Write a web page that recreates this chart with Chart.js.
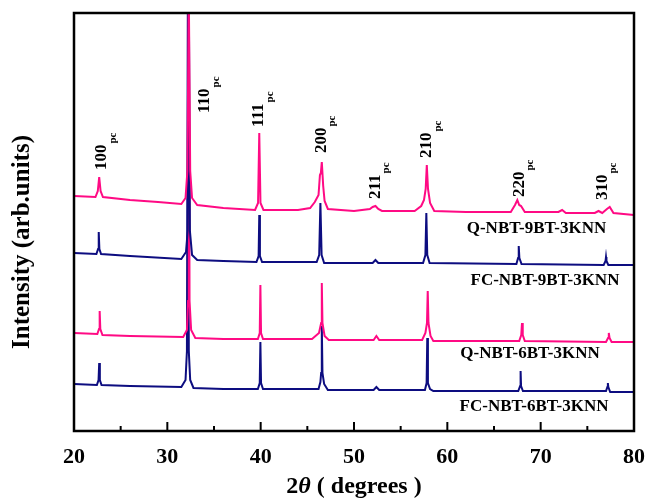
<!DOCTYPE html>
<html>
<head>
<meta charset="utf-8">
<script src="https://cdn.jsdelivr.net/npm/chart.js@4.4.1/dist/chart.umd.min.js"></script>
<style>
  body { margin: 0; background: #fff; }
  #wrap { width: 649px; height: 502px; position: relative; }
</style>
</head>
<body>
<div id="wrap"><canvas id="xrdChart"></canvas></div>
<script>
// ---- datos (2theta, intensidad en unidades arbitrarias) ----
const q9X = [20, 22.3, 22.55, 22.7, 22.85, 23.1, 26, 29, 31.5, 31.95, 32.15, 32.3, 32.45, 32.65, 33.2, 36, 39.4, 39.72, 39.85, 39.98, 40.3,
  44, 45.3, 45.8, 46.2, 46.35, 46.45, 46.55, 46.7, 46.85, 47.2, 50, 51.7, 52.0, 52.3, 52.6, 53, 56.5, 57.2, 57.5, 57.68, 57.8, 57.93, 58.15, 58.6,
  62, 66.8, 67.25, 67.5, 67.7, 67.9, 68.3, 71.9, 72.3, 72.7, 75.8, 76.2, 76.6, 77.1, 77.4, 77.8, 80];
const q9Y = [235, 234, 240, 254, 240, 234, 231, 229, 227, 233, 260, 440, 260, 233, 226, 223, 221, 228, 298, 228, 221,
  221, 223, 229, 236, 256, 258, 269, 245, 230, 222, 220, 222, 224, 225, 222, 220, 220, 225, 231, 242, 266, 242, 228, 220,
  219, 219, 226, 231, 226, 225, 219, 219, 221, 218, 218, 220, 218, 222, 224, 218, 216];

const fc9X = [20, 22.4, 22.58, 22.65, 22.72, 22.9, 26, 31.5, 32.0, 32.18, 32.3, 32.42, 32.65, 33.2, 36, 39.55, 39.78, 39.85, 39.92, 40.15,
  46.0, 46.27, 46.4, 46.53, 46.8, 52.0, 52.3, 52.6, 57.4, 57.65, 57.75, 57.85, 58.1, 67.4, 67.58, 67.65, 67.72, 67.95,
  76.75, 76.95, 77.0, 77.05, 77.25, 80];
const fc9Y = [178, 177, 182, 199, 182, 177, 175, 172, 179, 200, 440, 200, 176, 171, 170, 169, 175, 216, 175, 169,
  169, 176, 228, 176, 168, 168, 171, 168, 168, 176, 218, 176, 168, 167, 173, 185, 173, 167,
  166, 170, 174, 170, 166, 166];

const q6X = [20, 22.5, 22.68, 22.75, 22.82, 23.05, 26, 31.7, 32.1, 32.22, 32.3, 32.38, 32.55, 33, 36, 39.7, 39.9, 39.97, 40.04, 40.25,
  45.5, 46.25, 46.48, 46.55, 46.62, 46.85, 47.3, 52.1, 52.4, 52.7, 57.3, 57.65, 57.82, 57.9, 57.98, 58.2, 58.5,
  67.7, 67.92, 68.0, 68.08, 68.3, 77.0, 77.22, 77.3, 77.38, 77.6, 80];
const q6Y = [98, 97, 102, 120, 102, 96, 95, 94, 101, 130, 440, 130, 101, 93, 92, 92, 98, 146, 98, 92,
  92, 98, 108, 148, 108, 95, 91, 91, 95, 91, 91, 98, 108, 140, 108, 95, 90,
  90, 96, 108, 96, 90, 89, 93, 98, 93, 89, 89];

const fc6X = [20, 22.45, 22.63, 22.7, 22.77, 22.95, 26, 31.5, 31.95, 32.1, 32.2, 32.3, 32.45, 32.8, 36, 39.7, 39.9, 39.97, 40.04, 40.25,
  46.2, 46.4, 46.48, 46.55, 46.62, 46.8, 47.2, 52.1, 52.4, 52.7, 57.6, 57.78, 57.85, 57.92, 58.15, 58.5,
  67.6, 67.8, 67.85, 67.9, 68.1, 77.0, 77.15, 77.2, 77.25, 77.45, 80];
const fc6Y = [47, 46, 51, 68, 51, 46, 45, 44, 51, 80, 440, 80, 51, 43, 42, 42, 48, 89, 48, 42,
  42, 49, 58, 105, 58, 47, 41, 41, 44, 41, 41, 48, 93, 48, 42, 40,
  40, 45, 60, 45, 40, 40, 44, 48, 44, 39, 39];

// etiquetas de picos (hkl) y donde van
const peakNames = ['100', '110', '111', '200', '211', '210', '220', '310'];
const peakLabelX = [23.0, 34.0, 39.8, 46.5, 52.3, 57.8, 67.7, 76.6];
const peakLabelY = [261, 318, 304, 278, 232, 273, 234, 231];

// nombres de muestras
const sampleNames = ['Q-NBT-9BT-3KNN', 'FC-NBT-9BT-3KNN', 'Q-NBT-6BT-3KNN', 'FC-NBT-6BT-3KNN'];
const sampleLabelX = [69.55, 70.46, 68.86, 69.29];
const sampleLabelY = [202.5, 150, 77, 24.5];

const xTicksMajor = [20, 30, 40, 50, 60, 70, 80];
const xTicksMinor = [25, 35, 45, 55, 65, 75];

const PINK = '#ff0a84';
const NAVY = '#0d0d80';
const SERIF = "'Times New Roman', 'Liberation Serif', serif";

function toPoints(xs, ys) {
  return xs.map((x, i) => ({ x: x, y: ys[i] }));
}

// marco, ticks hacia adentro y textos extra
const decoPlugin = {
  id: 'deco',
  afterDraw(chart) {
    const ctx = chart.ctx;
    const a = chart.chartArea;
    const xs = chart.scales.x;
    const ys = chart.scales.y;
    ctx.save();
    // etiquetas hkl rotadas
    ctx.fillStyle = '#000';
    peakNames.forEach((nm, i) => {
      const px = xs.getPixelForValue(peakLabelX[i]);
      const py = ys.getPixelForValue(peakLabelY[i]);
      ctx.save();
      ctx.translate(px, py);
      ctx.rotate(-Math.PI / 2);
      ctx.font = 'bold 17px ' + SERIF;
      ctx.textAlign = 'left';
      ctx.textBaseline = 'middle';
      ctx.fillText(nm, 0, 0);
      const w = ctx.measureText(nm).width;
      ctx.font = 'bold 11px ' + SERIF;
      ctx.fillText('pc', w + 1, 11);
      ctx.restore();
    });
    // nombres de muestras
    ctx.font = 'bold 17px ' + SERIF;
    ctx.textAlign = 'center';
    ctx.textBaseline = 'middle';
    sampleNames.forEach((nm, i) => {
      ctx.fillText(nm, xs.getPixelForValue(sampleLabelX[i]), ys.getPixelForValue(sampleLabelY[i]));
    });
    // titulo eje y
    ctx.save();
    ctx.translate(23, 242);
    ctx.rotate(-Math.PI / 2);
    ctx.font = 'bold 25px ' + SERIF;
    ctx.fillText('Intensity (arb.units)', 0, 0);
    ctx.restore();
    // titulo eje x con theta italica
    const parts = [['2', 'bold '], ['\u03B8', 'italic bold '], [' ( degrees )', 'bold ']];
    let total = 0;
    parts.forEach(p => { ctx.font = p[1] + '24px ' + SERIF; total += ctx.measureText(p[0]).width; });
    let cx = (a.left + a.right) / 2 - total / 2;
    ctx.textAlign = 'left';
    parts.forEach(p => {
      ctx.font = p[1] + '24px ' + SERIF;
      ctx.fillText(p[0], cx, 487);
      cx += ctx.measureText(p[0]).width;
    });
    // ticks
    ctx.strokeStyle = '#000';
    ctx.lineWidth = 2;
    xTicksMajor.forEach(v => {
      const px = xs.getPixelForValue(v);
      ctx.beginPath(); ctx.moveTo(px, a.bottom); ctx.lineTo(px, a.bottom - 9); ctx.stroke();
    });
    xTicksMinor.forEach(v => {
      const px = xs.getPixelForValue(v);
      ctx.beginPath(); ctx.moveTo(px, a.bottom); ctx.lineTo(px, a.bottom - 5); ctx.stroke();
    });
    // marco
    ctx.lineWidth = 2.5;
    ctx.strokeRect(a.left, a.top, a.right - a.left, a.bottom - a.top);
    ctx.restore();
  }
};

const ctx = document.getElementById('xrdChart').getContext('2d');
const grafico = new Chart(ctx, {
  type: 'line',
  data: {
    datasets: [
      { label: sampleNames[0], data: toPoints(q9X, q9Y), borderColor: PINK },
      { label: sampleNames[1], data: toPoints(fc9X, fc9Y), borderColor: NAVY },
      { label: sampleNames[2], data: toPoints(q6X, q6Y), borderColor: PINK },
      { label: sampleNames[3], data: toPoints(fc6X, fc6Y), borderColor: NAVY }
    ].map(d => Object.assign(d, { borderWidth: 2, pointRadius: 0, tension: 0, fill: false }))
  },
  options: {
    responsive: true,
    maintainAspectRatio: false,
    animation: false,
    layout: { padding: { top: 13, right: 15, left: 0, bottom: 0 } },
    plugins: { legend: { display: false }, tooltip: { enabled: false } },
    scales: {
      x: {
        type: 'linear',
        min: 20,
        max: 80,
        afterFit: s => { s.height = 71; s.paddingRight = 0; s.paddingLeft = 0; },
        grid: { display: false, drawTicks: false },
        border: { display: false },
        ticks: {
          stepSize: 10,
          padding: 13,
          color: '#000',
          font: { family: SERIF, size: 22, weight: 'bold' }
        }
      },
      y: {
        min: 0,
        max: 418,
        afterFit: s => { s.width = 74; },
        grid: { display: false, drawTicks: false },
        border: { display: false },
        ticks: { display: false }
      }
    }
  },
  plugins: [decoPlugin]
});
</script>
</body>
</html>
